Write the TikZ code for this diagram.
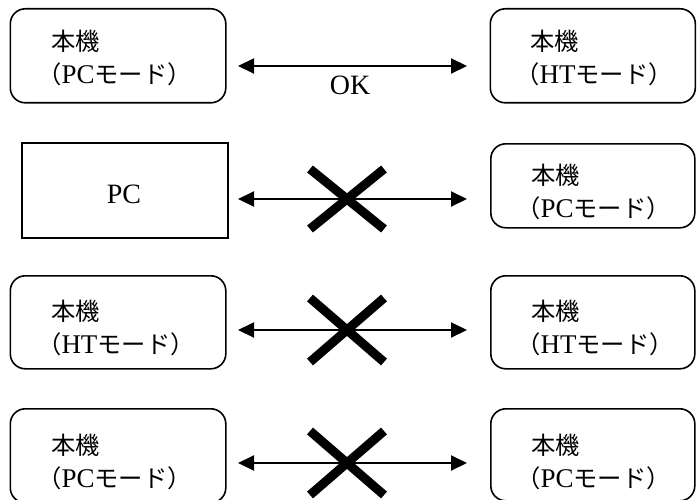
\documentclass[tikz,border=0pt]{standalone}
\usepackage{fontspec}
\setmainfont{Liberation Serif}
\newfontfamily\cjk{Noto Sans CJK JP}[Scale=0.9]
\usetikzlibrary{arrows.meta}
\begin{document}
\begin{tikzpicture}[x=1pt,y=-1pt,
  rbox/.style={draw, line width=1.6pt, rounded corners=15pt, inner sep=0pt, anchor=north west},
  sbox/.style={draw, line width=1.6pt, inner sep=0pt, anchor=north west},
  lbl/.style={anchor=base west, inner sep=0pt, font=\fontsize{27}{30}\selectfont},
  arr/.style={line width=2pt, {Triangle[length=16pt,width=15pt]}-{Triangle[length=16pt,width=15pt]}},
  xmark/.style={line width=9pt, line cap=butt}]
\useasboundingbox (0,0) rectangle (698,500);
% row 1
\node[rbox, minimum width=215.5pt, minimum height=94pt] (L1) at (9.5,8) {};
\node[rbox, minimum width=205pt, minimum height=94pt] (R1) at (489.5,8) {};
\node[lbl] (L1a) at (51,51) {\cjk 本機};
\node[lbl] (L1b) at (37,84) {{\cjk （}PC{\cjk モード）}};
\node[lbl] (R1a) at (530,51) {\cjk 本機};
\node[lbl] (R1b) at (515,84) {{\cjk （}HT{\cjk モード）}};
\coordinate (a1l) at (238,66);
\coordinate (a1r) at (467,66);
\draw[arr] (a1l) -- (a1r);
\node[font=\fontsize{28}{30}\selectfont, inner sep=0pt] (ok) at (350,85) {OK};
% row 2
\node[sbox, minimum width=206pt, minimum height=95pt] (L2) at (21,142) {};
\node[font=\fontsize{28}{30}\selectfont, inner sep=0pt] (pc) at (124,194) {PC};
\node[rbox, minimum width=204pt, minimum height=84pt] (R2) at (490,143) {};
\node[lbl] (R2a) at (531,184) {\cjk 本機};
\node[lbl] (R2b) at (516,217) {{\cjk （}PC{\cjk モード）}};
\coordinate (a2l) at (238,199);
\coordinate (a2r) at (467,199);
\draw[arr] (a2l) -- (a2r);
\coordinate (x2) at (347,199);
\draw[xmark, shift={(x2)}] (-37,-30) -- (37,30) (-37,30) -- (37,-30);
% row 3
\node[rbox, minimum width=215.5pt, minimum height=93pt] (L3) at (9.5,275) {};
\node[rbox, minimum width=204pt, minimum height=93pt] (R3) at (490,275) {};
\node[lbl] (L3a) at (51,320) {\cjk 本機};
\node[lbl] (L3b) at (37,353) {{\cjk （}HT{\cjk モード）}};
\node[lbl] (R3a) at (531,320) {\cjk 本機};
\node[lbl] (R3b) at (516,353) {{\cjk （}HT{\cjk モード）}};
\coordinate (a3l) at (238,330);
\coordinate (a3r) at (467,330);
\draw[arr] (a3l) -- (a3r);
\coordinate (x3) at (347,330);
\draw[xmark, shift={(x3)}] (-37,-32) -- (37,32) (-37,32) -- (37,-32);
% row 4
\node[rbox, minimum width=215.5pt, minimum height=94pt] (L4) at (9.5,408) {};
\node[rbox, minimum width=204pt, minimum height=92pt] (R4) at (490,408) {};
\node[lbl] (L4a) at (51,454) {\cjk 本機};
\node[lbl] (L4b) at (37,487) {{\cjk （}PC{\cjk モード）}};
\node[lbl] (R4a) at (531,454) {\cjk 本機};
\node[lbl] (R4b) at (516,487) {{\cjk （}PC{\cjk モード）}};
\coordinate (a4l) at (238,463);
\coordinate (a4r) at (467,463);
\draw[arr] (a4l) -- (a4r);
\coordinate (x4) at (347,463);
\draw[xmark, shift={(x4)}] (-37,-32) -- (37,32) (-37,32) -- (37,-32);
\end{tikzpicture}
\end{document}
